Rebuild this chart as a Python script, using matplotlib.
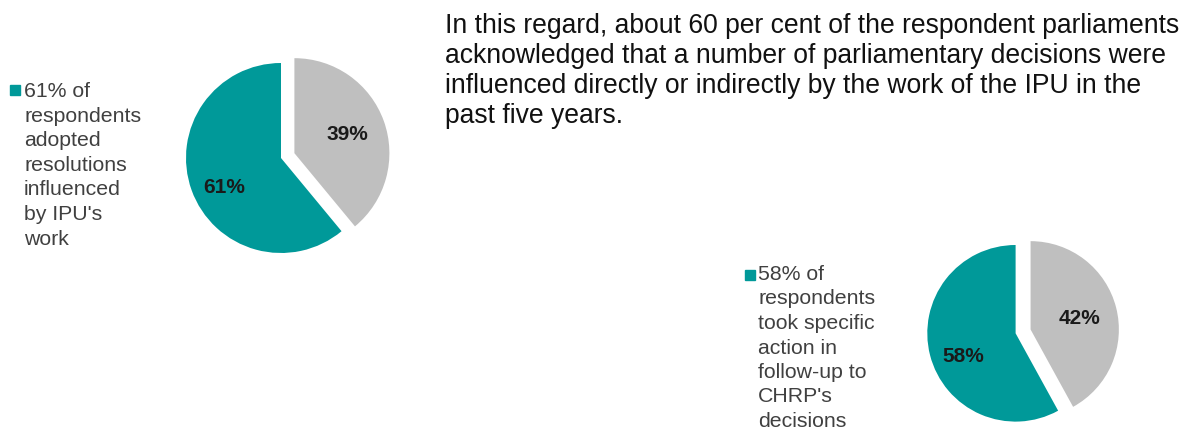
import numpy as np
import matplotlib.pyplot as plt
from matplotlib.patches import Rectangle

plt.rcParams["font.family"] = ["Liberation Sans", "DejaVu Sans"]

W, H = 1194, 430

# data
pie_labels = ["Yes", "No"]
resolutions_pct = [61, 39]
chrp_action_pct = [58, 42]

resolutions_legend = ["61% of", "respondents", "adopted", "resolutions",
                      "influenced", "by IPU's", "work"]
chrp_legend = ["58% of", "respondents", "took specific", "action in",
               "follow-up to", "CHRP's", "decisions"]
paragraph = [
    "In this regard, about 60 per cent of the respondent parliaments",
    "acknowledged that a number of parliamentary decisions were",
    "influenced directly or indirectly by the work of the IPU in the",
    "past five years.",
]

TEAL = "#009999"
GREY = "#BFBFBF"


def fx(x):
    return x / W


def fy(y):
    return 1 - y / H


def draw_pie(fig, values, cx, cy, r, explode, label_r, label_shift):
    lim = 1.3
    size = 2 * lim * r
    ax = fig.add_axes([fx(cx - size / 2), (H - cy - size / 2) / H,
                       size / W, size / H])
    wedges, texts, autotexts = ax.pie(
        values, colors=[TEAL, GREY], startangle=90, counterclock=True,
        explode=[0, explode], autopct="%d%%", pctdistance=0.63,
        wedgeprops=dict(linewidth=0),
        textprops=dict(fontsize=15, fontweight="bold", color="#1a1a1a"))
    # nudge labels to where Excel puts them
    for w, t, lr, sh in zip(wedges, autotexts, label_r, label_shift):
        ang = np.deg2rad((w.theta1 + w.theta2) / 2 + sh)
        x0, y0 = w.center
        t.set_position((x0 + lr * np.cos(ang), y0 + lr * np.sin(ang)))
        t.set_va("center_baseline")
    ax.set_xlim(-lim, lim)
    ax.set_ylim(-lim, lim)
    ax.set_aspect("equal")
    ax.axis("off")
    return ax


def draw_legend(fig, lines, sq_x, sq_y, text_x, base_y, step=24.6):
    fig.patches.append(Rectangle((fx(sq_x), fy(sq_y + 10)), 10 / W, 10 / H,
                                 transform=fig.transFigure, color=TEAL))
    for i, line in enumerate(lines):
        fig.text(fx(text_x), fy(base_y + i * step), line, fontsize=15.3,
                 color="#404040", va="baseline", ha="left")


fig = plt.figure(figsize=(W / 100, H / 100), dpi=100)

draw_pie(fig, resolutions_pct, 281, 158, 95, 0.15, [0.67, 0.6], [6, 1])
draw_pie(fig, chrp_action_pct, 1015.6, 333.3, 88.3, 0.175, [0.64, 0.57], [8, 1])

draw_legend(fig, resolutions_legend, 10, 85, 24, 97)
draw_legend(fig, chrp_legend, 745, 270, 758, 280, step=24.5)

for i, line in enumerate(paragraph):
    fig.text(fx(445), fy(33 + i * 30), line, fontsize=19.1,
             color="#111111", va="baseline", ha="left")

fig.savefig("out.png", dpi=100)
